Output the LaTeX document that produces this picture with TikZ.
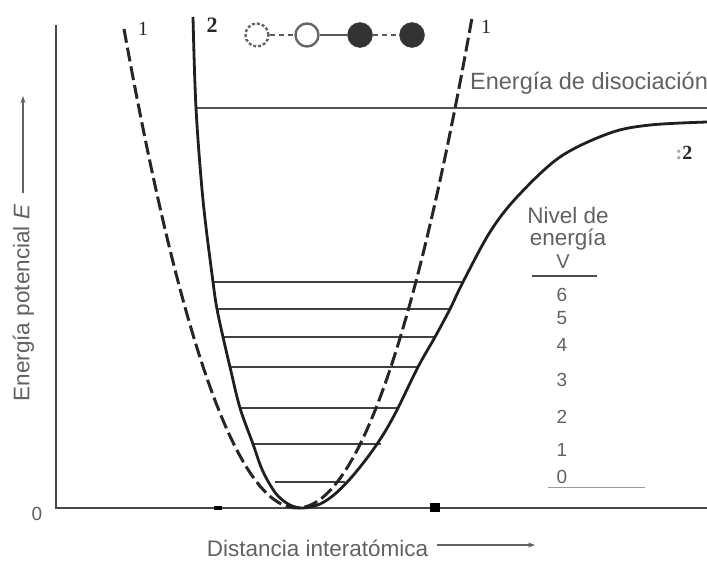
\documentclass[tikz,border=0pt]{standalone}
\usepackage{fontspec}
\setmainfont{Liberation Sans}
\newfontfamily\serifnum{Liberation Serif}
\usetikzlibrary{arrows.meta}
\definecolor{txtgray}{gray}{0.38}
\definecolor{linegray}{gray}{0.25}
\tikzset{
  lbl/.style={inner sep=0pt, text=txtgray, font=\fontsize{22.5}{25}\selectfont},
  numlbl/.style={inner sep=0pt, text=txtgray, font=\fontsize{19}{21}\selectfont},
  curvelbl/.style={inner sep=0pt, text=black!85, font=\serifnum\fontsize{20}{22}\selectfont},
  axisline/.style={line width=2.4pt, draw=black!72},
  levelline/.style={line width=2.8pt, draw=linegray},
  morse/.style={line width=2.8pt, draw=black!88},
  harmonic/.style={line width=3pt, draw=black!85, dash pattern=on 14pt off 5pt},
  labarrow/.style={line width=1.1pt, draw=txtgray, -{Stealth[length=7pt,width=5pt]}},
  atomopen/.style={circle, minimum size=23pt, inner sep=0pt, draw=black!60, line width=2.4pt},
  atomfull/.style={circle, minimum size=25pt, inner sep=0pt, fill=black!80, draw=black!80},
}
\begin{document}
\begin{tikzpicture}[x=1pt,y=-1pt]
\useasboundingbox (0,0) rectangle (707,560);
% axes
\coordinate (ytop) at (56,25);
\coordinate (orig) at (56,508);
\coordinate (xend) at (707,508);
\draw[axisline] (ytop) -- (orig) -- (xend);
\fill[black] (214,506) rectangle (222,510);
\fill[black] (430,503) rectangle (440,512);
\node[lbl, font=\fontsize{19}{21}\selectfont] (zero) at (37,514) {0};
% axis labels
\node[lbl, rotate=90] (ylab) at (23.5,303) {Energía potencial \textit{E}};
\coordinate (yarrA) at (23,193);
\coordinate (yarrB) at (23,96);
\draw[labarrow] (yarrA) -- (yarrB);
\node[lbl] (xlab) at (317.5,548) {Distancia interatómica};
\coordinate (xarrA) at (437,545);
\coordinate (xarrB) at (535,545);
\draw[labarrow] (xarrA) -- (xarrB);
% dissociation
\coordinate (dissA) at (196,108);
\coordinate (dissB) at (707,108);
\draw[line width=2.8pt, draw=black!68] (dissA) -- (dissB);
\node[lbl, font=\fontsize{23.5}{25}\selectfont] (disslab) at (589,83) {Energía de disociación};
% energy levels
\foreach \yy/\xa/\xb in {282/213/463, 309/217/450, 337/223/435, 367/230/418, 408/240/398, 444/253/381, 482/275/345}{
  \draw[levelline] (\xa,\yy) -- (\xb,\yy);
}
% harmonic (dashed) curve 1
\draw[harmonic] plot[domain=124:472, samples=80] (\x,{508-0.016*(\x-297)*(\x-297)});
% Morse curve 2
\draw[morse] plot[smooth, tension=0.55] coordinates {
 (193,17) (196,108) (203,200) (213,282) (217,309) (223,337) (230,367) (240,408)
 (253,444) (261,467) (269,483) (278,496) (290,505) (303,508) (320,504) (335,494)
 (350,479) (364,462) (375,447) (386,430) (398,408) (418,367) (435,337) (450,309) (463,282)
 (490,232) (517,197) (560,157) (610,133) (650,125) (707,122)};
% curve labels
\node[curvelbl] (c1a) at (143,29) {1};
\node[curvelbl] (c1b) at (486,27) {1};
\node[curvelbl, font=\serifnum\bfseries\fontsize{22}{24}\selectfont] (c2a) at (212,25) {2};
\node[curvelbl, font=\serifnum\bfseries\fontsize{20}{22}\selectfont] (c2b) at (684,153) {{\color{black!35}:}2};
% molecule
\node[atomopen, dash pattern=on 3pt off 2pt] (m1) at (257,35) {};
\node[atomopen] (m2) at (307,35) {};
\node[atomfull] (m3) at (360,35) {};
\node[atomfull] (m4) at (412,35) {};
\draw[line width=1.8pt, draw=black!65, dash pattern=on 5pt off 4pt] (m1) -- (m2);
\draw[line width=1.6pt, draw=black!65] (m2) -- (m3);
\draw[line width=1.8pt, draw=black!65, dash pattern=on 5pt off 4pt] (m3) -- (m4);
% level legend
\node[lbl] (niv1) at (568,215) {Nivel de};
\node[lbl] (niv2) at (568,240) {energía};
\node[numlbl, font=\fontsize{20}{22}\selectfont] (vlab) at (563,262) {V};
\coordinate (vlA) at (532,276);
\coordinate (vlB) at (597,276);
\draw[line width=1.6pt, draw=black!70] (vlA) -- (vlB);
\node[numlbl] (n6) at (562,295) {6};
\node[numlbl] (n5) at (562,318) {5};
\node[numlbl] (n4) at (562,345) {4};
\node[numlbl] (n3) at (562,380) {3};
\node[numlbl] (n2) at (562,417) {2};
\node[numlbl] (n1) at (562,450) {1};
\node[numlbl] (n0) at (562,477) {0};
\coordinate (zlA) at (548,487);
\coordinate (zlB) at (645,487);
\draw[line width=0.8pt, draw=black!40] (zlA) -- (zlB);
\end{tikzpicture}
\end{document}
